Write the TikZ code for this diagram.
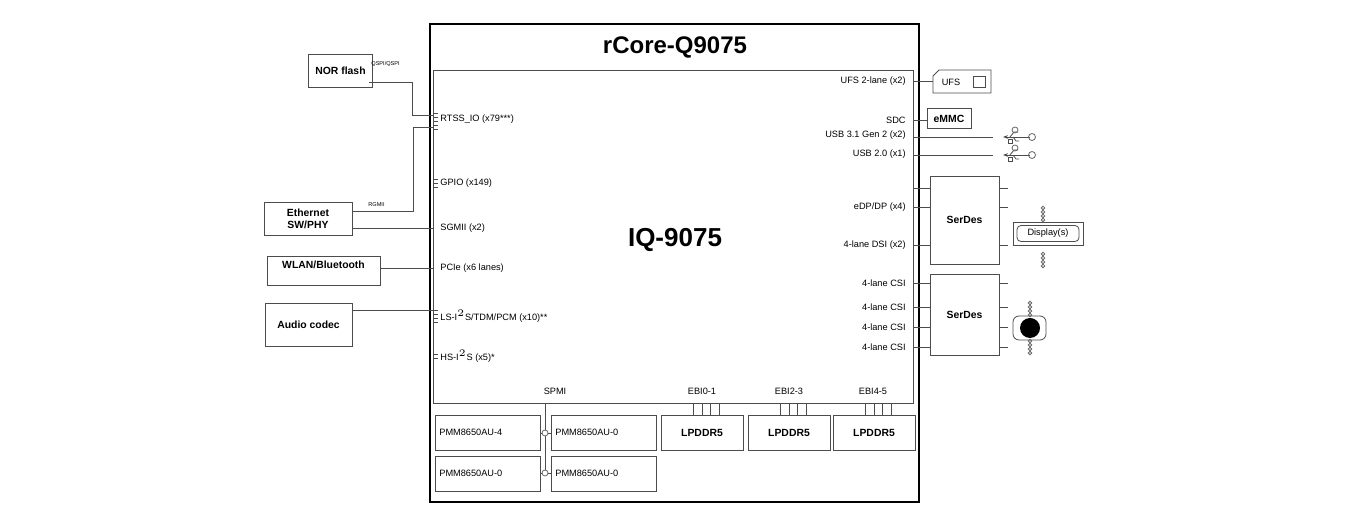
\documentclass[tikz,border=0pt]{standalone}
\usepackage{fontspec}
\setmainfont{Liberation Sans}
\usepackage{tikz}
\usetikzlibrary{arrows.meta, positioning}

\begin{document}
\begin{tikzpicture}[
    x=0.5pt, y=-0.5pt,
    lbl/.style={font=\fontsize{4.6}{5}\selectfont, inner sep=1pt},
    tiny/.style={font=\fontsize{2.8}{3}\selectfont, inner sep=0.5pt},
    blk/.style={draw=black!70, thin},
    btxt/.style={font=\fontsize{5.2}{6}\selectfont\bfseries, align=center},
    wire/.style={draw=black!70, thin},
    dot/.style={circle, draw=black!60, inner sep=0pt, minimum size=2pt}]
    \useasboundingbox (0,0) rectangle (1350,528);
    % module and SoC
    \draw [line width=1.4pt] (430,24) rectangle (919,502);
    \draw [blk] (433,70) rectangle (913,403);
    \node (title) at (675,47) {\fontsize{12}{14}\selectfont\bfseries rCore-Q9075};
    \node (soc) at (675,240) {\fontsize{13}{15}\selectfont\bfseries IQ-9075};
    % left interfaces
    \foreach \y/\t/\n in {119/{RTSS\_IO (x79***)}/rtss, 183/{GPIO (x149)}/gpio,
        228/{SGMII (x2)}/sgmii, 268/{PCIe (x6 lanes)}/pcie,
        316/{LS-I$^2$S/TDM/PCM (x10)**}/lsi, 356/{HS-I$^2$S (x5)*}/hsi}
        \node [lbl, anchor=west] (\n) at (438,\y) {\t};
    \foreach \y in {113,117,121,125,129,179,183,187,310,314,318,322,354,358}
        \draw [wire] (433,\y) -- (438,\y);
    % left peripherals
    \node [blk, btxt, minimum width=28.5pt, minimum height=16.5pt] (nor) at (340.5,70.5) {NOR flash};
    \node [blk, btxt, minimum width=44pt, minimum height=15.5pt] (eth) at (308,218.5) {Ethernet\\SW/PHY};
    \draw [blk] (267,256) rectangle (380,285);
    \node [btxt] (wlan) at (323.5,265) {WLAN/Bluetooth};
    \node [blk, btxt, minimum width=43.5pt, minimum height=21.5pt] (audio) at (308.5,324.5) {Audio codec};
    \draw [wire] (369,82) -- (412,82) -- (412,115) -- (433,115);
    \node [tiny, anchor=south west] (qspi) at (370,68) {QSPI/QSPI};
    \draw [wire] (352,211) -- (413,211) -- (413,127) -- (433,127);
    \node [tiny, anchor=south west] (rgmii) at (367,208) {RGMII};
    \draw [wire] (352,228) -- (433,228);
    \draw [wire] (380,268) -- (433,268);
    \draw [wire] (352,310) -- (433,310);
    % right interfaces
    \foreach \y/\t in {81/{UFS 2-lane (x2)}, 120/SDC, 135/{USB 3.1 Gen 2 (x2)},
        154/{USB 2.0 (x1)}, 207/{eDP/DP (x4)}, 245/{4-lane DSI (x2)},
        283/{4-lane CSI}, 307/{4-lane CSI}, 327/{4-lane CSI}, 347/{4-lane CSI}}
        \node [lbl, anchor=east] at (908,\y) {\t};
    \draw [blk] (933,76) -- (939,70) -- (991,70) -- (991,93) -- (933,93) -- cycle;
    \node [lbl] (ufs) at (951,82) {UFS};
    \draw [blk] (973,76) rectangle (985,87);
    \draw [wire] (913,81) -- (933,81);
    \node [blk, btxt, minimum width=19pt, minimum height=8.5pt] (emmc) at (949,118.5) {eMMC};
    \draw [wire] (913,120) -- (emmc.west |- 0,120);
    % usb plugs
    \foreach \y in {137,155} {
        \draw [wire] (913,\y) -- (993,\y);
        \draw [wire, -{Stealth[length=2.5pt]}] (1030,\y) -- (1003,\y);
        \draw [wire] (1010,\y) -- (1014,\y-5) -- (1018,\y-5);
        \node [dot, minimum size=3pt] at (1015,\y-7) {};
        \draw [wire] (1013,\y) -- (1016,\y+4) -- (1019,\y+4);
        \draw [wire] (1008,\y+2) rectangle (1012,\y+6);
        \node [dot, minimum size=3.5pt] at (1032,\y) {};
    }
    % serdes
    \node [blk, btxt, minimum width=34.5pt, minimum height=44pt] (sd1) at (964.5,220) {SerDes};
    \node [blk, btxt, minimum width=34.5pt, minimum height=40.5pt] (sd2) at (964.5,314.5) {SerDes};
    \foreach \y in {188,207,245}
        \draw [wire] (913,\y) -- (930,\y) (999,\y) -- (1008,\y);
    \foreach \y in {283,307,327,347}
        \draw [wire] (913,\y) -- (930,\y) (999,\y) -- (1008,\y);
    % display
    \draw [blk] (1013,222) rectangle (1083,245);
    \node [draw=black!70, rounded corners=2pt, lbl, minimum width=31pt, minimum height=8pt] (disp) at (1048,233.5) {Display(s)};
    \foreach \y in {208,212,216,220,254,258,262,266}
        \node [dot, minimum size=1.8pt] at (1043,\y) {};
    % camera
    \draw [blk, rounded corners=3pt] (1013,316) rectangle (1046,340);
    \node [circle, draw, thin, minimum size=8pt, inner sep=0pt] (lens) at (1030,328) {};
    \fill (lens) circle (5pt);
    \foreach \y in {303,307,311,315,341,345,349,353}
        \node [dot, minimum size=1.8pt] at (1030,\y) {};
    % bottom: pmic and memory
    \node [lbl] (spmi) at (555,391) {SPMI};
    \foreach \x/\t in {702/EBI0-1, 789/EBI2-3, 873/EBI4-5}
        \node [lbl] at (\x,391) {\t};
    \foreach \x/\y/\t/\n in {435/415/PMM8650AU-4/pa, 551/415/PMM8650AU-0/pb,
        435/456/PMM8650AU-0/pc, 551/456/PMM8650AU-0/pd} {
        \draw [blk] (\x,\y) rectangle (\x+105,\y+35);
        \node [lbl, anchor=west] (\n) at (\x+2,\y+17.5) {\t};
    }
    \draw [wire] (545,403) -- (545,470);
    \foreach \y in {433,473} {
        \draw [wire] (540,\y) -- (551,\y);
        \node [dot, fill=white, minimum size=3pt] at (545,\y) {};
    }
    \foreach \x/\n in {661/m1, 748/m2, 833/m3} {
        \draw [blk] (\x,415) rectangle (\x+82,450);
        \node [btxt] (\n) at (\x+41,433) {LPDDR5};
        \foreach \d in {32,41,49,58}
            \draw [wire] (\x+\d,403) -- (\x+\d,415);
    }
\end{tikzpicture}
\end{document}
